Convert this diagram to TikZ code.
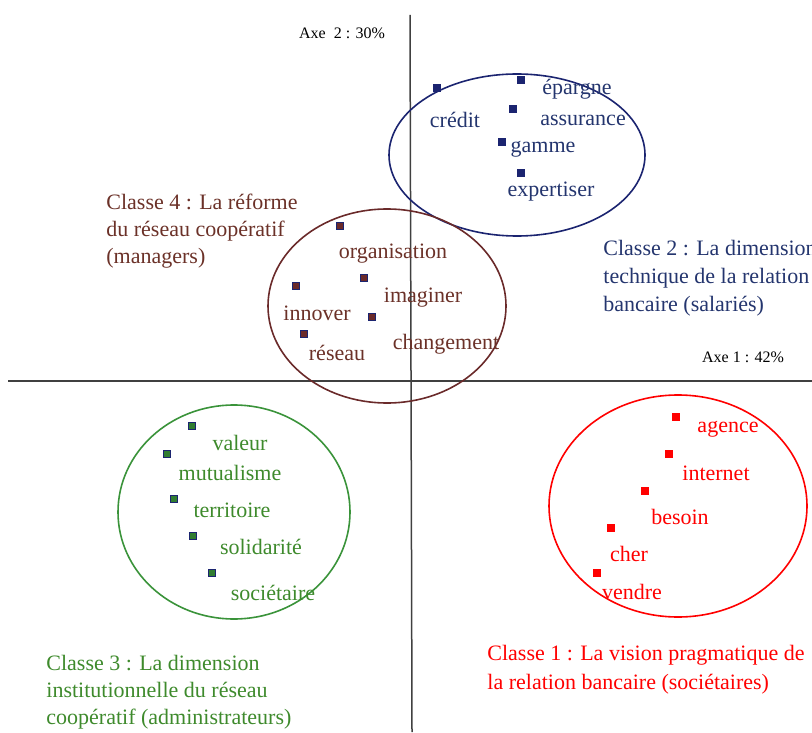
\documentclass[tikz,border=0pt]{standalone}
\usepackage{fontspec}
\setmainfont{Liberation Serif}
\definecolor{rouge}{HTML}{FF0000}
\definecolor{bleuC}{HTML}{1B2470}
\definecolor{bleuT}{HTML}{24356E}
\definecolor{vertC}{HTML}{3A933A}
\definecolor{vertT}{HTML}{3E8A2C}
\definecolor{brunC}{HTML}{6A2A2A}
\definecolor{brunT}{HTML}{6B3128}
% marker square and its word, #1 = class
\newcommand{\motcle}[5]{%
  \node[marq#1] (m-#2) at #3 {};
  \node[mot#1] (t-#2) at #4 {#5};
}

\begin{document}
\begin{tikzpicture}[
      x=0.5pt,y=-0.5pt,
      every node/.style={inner sep=0pt,font=\fontsize{11}{13.5}\selectfont},
      axe/.style={line width=0.75pt,draw=black!75},
      classe/.style={line width=0.8pt},
      marq/.style={minimum size=4.2pt},
      marq1/.style={marq,fill=rouge},
      marq2/.style={marq,fill=bleuC},
      marq3/.style={marq,fill=vertC!85!black,draw=bleuC,line width=0.4pt,minimum size=3.8pt},
      marq4/.style={marq,fill=brunC,draw=bleuC,line width=0.4pt,minimum size=3.8pt},
      mot1/.style={text=rouge},
      mot2/.style={text=bleuT},
      mot3/.style={text=vertT},
      mot4/.style={text=brunT},
      titre/.style={align=left,anchor=west},
      legende/.style={font=\fontsize{8}{9.5}\selectfont}
    ]
      \useasboundingbox (0,0) rectangle (812,732);
      % axes
      \coordinate (axeG) at (8,381);
      \coordinate (axeD) at (812,381);
      \coordinate (axeH) at (410,15);
      \coordinate (axeB) at (412,732);
      \draw[axe] (axeG) -- (axeD);
      \draw[axe] (axeH) -- (axeB);
      \node[legende] (axe2) at (342,33) {Axe~~2 : 30\%};
      \node[legende] (axe1) at (743,357) {Axe 1 : 42\%};

      % classes
      \draw[classe,draw=bleuC] (517,155) ellipse [x radius=128, y radius=81];
      \draw[classe,draw=brunC] (387,306) ellipse [x radius=119, y radius=97];
      \draw[classe,draw=vertC] (234,512) ellipse [x radius=116, y radius=107];
      \draw[classe,draw=rouge] (678,506) ellipse [x radius=129, y radius=111];

      % classe 2
      \motcle{2}{credit}{(437,88)}{(455,120)}{crédit}
      \motcle{2}{epargne}{(521,80)}{(577,89)}{épargne}
      \motcle{2}{assurance}{(513,109)}{(583,120)}{assurance}
      \motcle{2}{gamme}{(502,142)}{(543,149)}{gamme}
      \motcle{2}{expertiser}{(521,173)}{(551,192)}{expertiser}
      % classe 4
      \motcle{4}{organisation}{(340,226)}{(393,254)}{organisation}
      \motcle{4}{imaginer}{(364,278)}{(423,298)}{imaginer}
      \motcle{4}{innover}{(296,286)}{(317,313)}{innover}
      \motcle{4}{changement}{(372,317)}{(446,344)}{changement}
      \motcle{4}{reseau}{(304,334)}{(337,353)}{réseau}
      % classe 3
      \motcle{3}{valeur}{(192,426)}{(240,443)}{valeur}
      \motcle{3}{mutualisme}{(167,454)}{(230,473)}{mutualisme}
      \motcle{3}{territoire}{(174,499)}{(232,510)}{territoire}
      \motcle{3}{solidarite}{(193,536)}{(261,547)}{solidarité}
      \motcle{3}{societaire}{(212,573)}{(273,593)}{sociétaire}
      % classe 1
      \motcle{1}{agence}{(676,417)}{(728,429)}{agence}
      \motcle{1}{internet}{(669,454)}{(716,473)}{internet}
      \motcle{1}{besoin}{(645,491)}{(680,517)}{besoin}
      \motcle{1}{cher}{(611,528)}{(629,554)}{cher}
      \motcle{1}{vendre}{(597,573)}{(632,592)}{vendre}

      % titres
      \node[titre,mot4] (titre4) at (106,231) {Classe 4 : La réforme\\du réseau coopératif\\(managers)};
      \node[titre,mot2,font=\fontsize{11}{14}\selectfont] (titre2) at (603,278) {Classe 2 : La dimension\\technique de la relation\\bancaire (salariés)};
      \node[titre,mot3] (titre3) at (46,692) {Classe 3 : La dimension\\institutionnelle du réseau\\coopératif (administrateurs)};
      \node[titre,mot1,font=\fontsize{11}{14.5}\selectfont] (titre1) at (487,670) {Classe 1 : La vision pragmatique de\\la relation bancaire (sociétaires)};
    \end{tikzpicture}
\end{document}
